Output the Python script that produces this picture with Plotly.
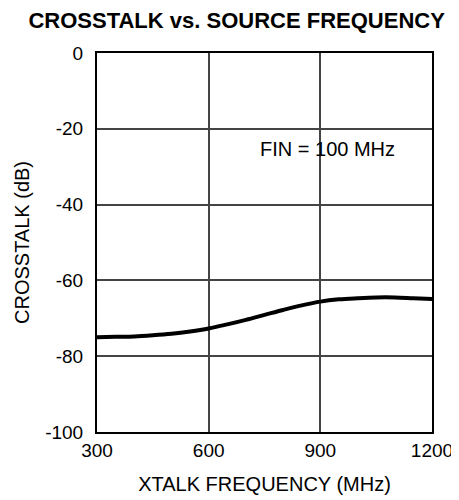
import plotly.graph_objects as go

freq_mhz = [300, 350, 400, 450, 500, 550, 600, 650, 700, 750, 800, 850, 900, 950, 1000, 1050, 1100, 1150, 1200]
crosstalk_db = [-75.0, -74.9, -74.8, -74.5, -74.1, -73.5, -72.7, -71.6, -70.4, -69.1, -67.8, -66.6, -65.6, -65.0, -64.7, -64.5, -64.5, -64.7, -64.9]

x_ticks = [300, 600, 900, 1200]
y_ticks = [0, -20, -40, -60, -80, -100]

font = "Liberation Sans, Arial, sans-serif"

fig = go.Figure()
fig.add_trace(go.Scatter(x=freq_mhz, y=crosstalk_db, mode="lines",
                         line=dict(color="black", width=4, shape="spline"),
                         showlegend=False, hoverinfo="skip"))

fig.add_annotation(x=919, y=-25.3, text="FIN = 100 MHz", showarrow=False,
                   font=dict(family=font, size=20, color="black"))

fig.update_layout(
    width=451, height=492,
    margin=dict(l=89, r=27, t=45, b=68),
    paper_bgcolor="white", plot_bgcolor="white",
    title=dict(text="<b>CROSSTALK vs. SOURCE FREQUENCY</b>", x=0.507, xanchor="center",
               y=0.9746, yanchor="middle", font=dict(family=font, size=22, color="black")),
    font=dict(family=font, size=19, color="black"),
)
fig.update_xaxes(range=[300, 1200], tickvals=x_ticks, ticktext=[str(v) for v in x_ticks],
                 showgrid=True, gridcolor="#444444", gridwidth=1.5,
                 showline=True, linecolor="black", linewidth=2, mirror=True,
                 ticks="", zeroline=False, automargin=False,
                 title=dict(text="XTALK FREQUENCY (MHz)", font=dict(family=font, size=20), standoff=17),
                 tickfont=dict(family=font, size=19))
fig.update_yaxes(range=[-100, 0], tickvals=y_ticks, ticktext=[str(v) for v in y_ticks],
                 showgrid=True, gridcolor="#444444", gridwidth=1.5,
                 showline=True, linecolor="black", linewidth=2, mirror=True,
                 ticks="", zeroline=False, automargin=False, ticklabelstandoff=8,
                 title=dict(text="CROSSTALK (dB)", font=dict(family=font, size=20), standoff=10),
                 tickfont=dict(family=font, size=19))

fig.write_html("out.html")
